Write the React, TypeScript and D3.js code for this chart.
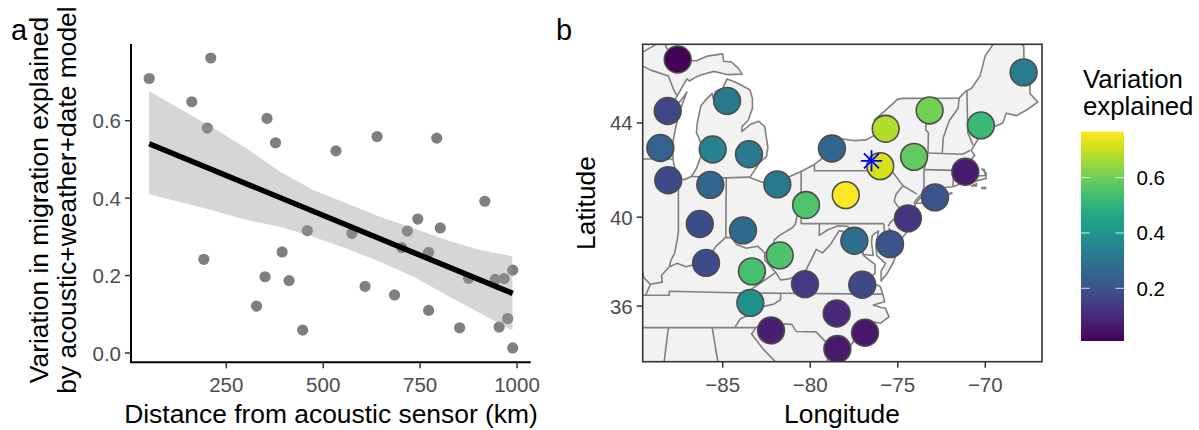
import * as d3 from "d3";

// panel a: distance (km) and variation explained
const distanceKm = [51, 210, 161, 201, 355, 377, 533, 639, 793, 917, 744, 802, 717, 459, 574, 703, 772, 394, 192, 350, 412, 608, 684, 328, 772, 447, 852, 875, 944, 967, 989, 976, 954, 989];
const variation = [0.709, 0.762, 0.649, 0.581, 0.606, 0.543, 0.522, 0.559, 0.555, 0.392, 0.346, 0.323, 0.315, 0.316, 0.309, 0.272, 0.26, 0.261, 0.242, 0.197, 0.187, 0.172, 0.15, 0.121, 0.11, 0.059, 0.065, 0.193, 0.19, 0.192, 0.214, 0.089, 0.067, 0.013];
const fitLine: [number, number][] = [[51, 0.5405], [989, 0.154]];
const ribbonKm = [51, 201, 300, 388, 474, 560, 646, 733, 818, 904, 988];
const ribbonUpper = [0.676, 0.59, 0.53, 0.4685, 0.421, 0.387, 0.352, 0.322, 0.292, 0.266, 0.25];
const ribbonLower = [0.41, 0.372, 0.344, 0.326, 0.3, 0.27, 0.236, 0.197, 0.15, 0.103, 0.058];
const kmTicks = [250, 500, 750, 1000];
const varTicks = [0, 0.2, 0.4, 0.6];

// panel b: sites
const siteLon = [-87.57, -88.14, -88.56, -88.11, -84.75, -85.57, -83.5, -85.71, -81.88, -78.76, -67.81, -73.18, -75.69, -70.25, -74.07, -76, -71.14, -72.87, -77.97, -80.24, -86.31, -83.84, -81.74, -85.95, -83.33, -80.3, -83.42, -82.24, -78.49, -78.45, -77.48, -75.44, -74.42, -77.03, -76.87];
const siteLat = [46.55, 44.49, 42.96, 41.6, 44.9, 42.9, 42.7, 41.4, 41.42, 42.94, 46.04, 44.51, 43.76, 43.9, 42.59, 42.2, 41.96, 40.86, 40.96, 40.53, 39.7, 39.42, 38.31, 37.97, 37.59, 37.01, 36.15, 34.87, 35.66, 33.99, 38.96, 38.81, 39.95, 36.98, 34.76];
const siteValue = [0.013, 0.165, 0.24, 0.172, 0.316, 0.346, 0.309, 0.26, 0.315, 0.255, 0.323, 0.606, 0.68, 0.522, 0.581, 0.72, 0.065, 0.205, 0.766, 0.559, 0.185, 0.272, 0.555, 0.18, 0.543, 0.13, 0.392, 0.075, 0.095, 0.06, 0.28, 0.205, 0.125, 0.172, 0.055];
const sensor: [number, number] = [-76.5, 42.42];
const lonTicks = [-85, -80, -75, -70];
const latTicks = [36, 40, 44];
const legendTicks = [0.2, 0.4, 0.6];
const valueDomain: [number, number] = [0.0094, 0.766];

// land outlines, lon/lat, rough hand-read
const mainland: [number, number][] = [
  [-92, 46.7], [-90.9, 46.95], [-90.4, 46.57], [-89.6, 46.83], [-88.9, 47.1], [-88.45, 47.4], [-88.2, 47], [-87.4, 46.5], [-87, 46.5], [-86.5, 46.5], [-85.9, 46.68], [-85, 46.77], [-84.95, 46.48], [-84.5, 46.45], [-84.1, 46.2], [-83.9, 45.97],
  [-84.7, 45.95], [-85, 46], [-85.5, 46.08], [-86.2, 45.95], [-86.55, 45.85], [-86.9, 45.7], [-87.05, 45.78], [-87.6, 45.1], [-88, 44.55], [-87.4, 44.9], [-87.05, 45.25], [-87.5, 44.4], [-87.7, 43.75], [-87.9, 43], [-87.8, 42.3], [-87.55, 41.7],
  [-87.2, 41.62], [-86.8, 41.76], [-86.5, 42.1], [-86.25, 42.6], [-86.2, 43.1], [-86.5, 43.6], [-86.45, 44], [-86.25, 44.7], [-85.95, 44.95], [-85.6, 45.2], [-85.55, 45], [-85.4, 45.3], [-85, 45.4], [-84.75, 45.78], [-84.2, 45.63], [-83.45, 45.35],
  [-83.3, 45], [-83.3, 44.6], [-83.55, 44.1], [-83.9, 43.85], [-83.9, 43.65], [-83.4, 43.95], [-82.95, 44.07], [-82.6, 43.85], [-82.42, 43], [-82.5, 42.6], [-82.9, 42.35], [-83.15, 42.05], [-83.45, 41.72], [-82.7, 41.5], [-81.7, 41.5], [-81.2, 41.75],
  [-80.5, 41.98], [-79.76, 42.27], [-79, 42.7], [-78.9, 42.9], [-79.05, 43.25], [-78.5, 43.37], [-77.5, 43.27], [-76.8, 43.3], [-76.2, 43.55], [-76.2, 43.95], [-76.35, 44.12], [-75.8, 44.45], [-75, 44.97], [-74.7, 45], [-71.5, 45.01], [-71.1, 45.3],
  [-70.8, 45.4], [-70.3, 45.9], [-70, 46.7], [-69.23, 47.46], [-68.3, 47.35], [-67.8, 47.07], [-67.78, 45.9], [-67.45, 45.6], [-67.45, 45.2], [-67, 44.85], [-67.6, 44.55], [-68.2, 44.3], [-68.8, 44.4], [-69, 44], [-69.8, 43.75], [-70.2, 43.6],
  [-70.6, 43.1], [-70.8, 42.85], [-70.6, 42.65], [-71, 42.3], [-70.7, 42], [-70.5, 41.78], [-70, 41.8], [-70.05, 42.05], [-70.2, 42.07], [-69.95, 41.9], [-69.95, 41.67], [-70.6, 41.55], [-71.1, 41.5], [-71.4, 41.45], [-71.85, 41.32], [-72.9, 41.25],
  [-73.65, 41], [-73.9, 40.8], [-74.05, 40.65], [-74, 40.45], [-74.1, 39.75], [-74.4, 39.4], [-74.9, 38.95], [-75.15, 39.2], [-75.5, 39.5], [-75.4, 39.1], [-75.1, 38.8], [-75.05, 38.45], [-75.25, 38], [-75.6, 37.5], [-75.95, 37.15], [-75.95, 37.6],
  [-75.7, 37.95], [-76.2, 38.3], [-76.25, 38.8], [-76.1, 39.4], [-76.45, 39.2], [-76.5, 38.9], [-76.4, 38.3], [-77, 38.35], [-77.05, 38.7], [-76.95, 38.3], [-76.3, 37.9], [-76.3, 37.5], [-76.7, 37.2], [-76.3, 37], [-76, 36.9], [-75.85, 36.55],
  [-75.75, 36.2], [-76.4, 36.05], [-76, 35.95], [-75.7, 35.9], [-75.5, 35.5], [-76, 35.2], [-76.6, 35.3], [-76.4, 34.95], [-76.6, 34.65], [-77.4, 34.5], [-77.95, 33.85], [-78.55, 33.85], [-79, 33.5], [-79.3, 33], [-92, 33],
];
const islands: [number, number][][] = [
  [[-74, 40.6], [-73, 40.65], [-71.9, 41.05], [-72.6, 40.98], [-73.7, 40.85]],
  [[-70.2, 41.28], [-69.97, 41.28], [-70, 41.24], [-70.2, 41.25]],
  [[-70.8, 41.35], [-70.5, 41.45], [-70.5, 41.35]],
];
const stateLines: [number, number][][] = [
  [[-90.4, 46.55], [-89.1, 46.13], [-88.1, 45.9], [-87.8, 45.35], [-87.6, 45.1]],
  [[-90.6, 42.5], [-87.8, 42.5]],
  [[-87.53, 41.7], [-87.53, 39.35], [-87.6, 39], [-87.75, 38.4], [-87.95, 38.1], [-88.05, 37.8]],
  [[-89.7, 37.9], [-89.5, 37.3], [-89.13, 37], [-89.4, 36.5]],
  [[-89.13, 37], [-88.45, 37.1], [-88.5, 37.4], [-88.05, 37.8], [-87.6, 37.95], [-87.1, 37.8], [-86.6, 37.9], [-86.3, 38.15], [-85.9, 38], [-85.75, 38.27], [-85.4, 38.7], [-84.85, 39.1], [-84.5, 39.1], [-84.2, 38.8], [-83.65, 38.63], [-83, 38.72], [-82.6, 38.42], [-82.2, 38.6], [-82.05, 39], [-81.75, 39.2], [-81, 39.55], [-80.85, 39.7], [-80.65, 40.4], [-80.52, 40.64]],
  [[-84.82, 39.1], [-84.8, 41.7]],
  [[-86.8, 41.76], [-84.8, 41.7], [-83.45, 41.73]],
  [[-80.52, 42], [-80.52, 39.72], [-75.79, 39.72]],
  [[-79.76, 42.27], [-79.76, 42], [-75.35, 42], [-74.7, 41.36], [-75.1, 41], [-75.2, 40.7], [-74.75, 40.2], [-75.4, 39.8], [-75.55, 39.6]],
  [[-74.7, 41.36], [-73.9, 41]],
  [[-73.65, 41], [-73.5, 41.3], [-73.5, 42.05], [-73.27, 42.75], [-73.25, 43.6], [-73.4, 43.7], [-73.35, 45]],
  [[-72.46, 42.73], [-72.4, 43.4], [-72.05, 44.1], [-71.55, 44.6], [-71.5, 45.01]],
  [[-73.27, 42.75], [-71.3, 42.7], [-70.85, 42.87]],
  [[-73.5, 42.05], [-71.8, 42.02], [-71.85, 41.32]],
  [[-71.8, 42.02], [-71.38, 42.02], [-71.2, 41.5]],
  [[-70.7, 43.08], [-71, 43.6], [-71.05, 45.3]],
  [[-75.79, 39.72], [-75.7, 38.46], [-75.05, 38.45]],
  [[-79.48, 39.72], [-79.48, 39.2], [-79, 39.45], [-78.4, 39.62], [-77.85, 39.6], [-77.72, 39.32], [-77.5, 39.1], [-77.05, 38.85]],
  [[-77.72, 39.32], [-78.35, 39.4], [-78.87, 38.77], [-79.3, 38.42], [-79.65, 38.58], [-80.3, 37.55], [-81.2, 37.25], [-81.7, 37.2], [-81.97, 37.54]],
  [[-82.6, 38.42], [-82.6, 38.1], [-81.97, 37.54], [-83.68, 36.6]],
  [[-89.6, 36.5], [-88.05, 36.5], [-88.05, 36.68], [-83.68, 36.6], [-81.68, 36.59], [-75.87, 36.55]],
  [[-81.68, 36.59], [-81.7, 36.3], [-82.05, 36.1], [-82.6, 36], [-83.1, 35.75], [-84, 35.4], [-84.32, 34.99]],
  [[-90.3, 35], [-83.11, 35], [-82.4, 35.2], [-81.05, 35.15], [-80.8, 34.82], [-79.67, 34.8], [-78.55, 33.85]],
  [[-83.11, 35], [-83.35, 34.7], [-82.7, 34], [-82, 33.4]],
  [[-88.1, 35], [-88.4, 33]],
  [[-85.6, 35], [-85.2, 33]],
];

const FONT = "'Liberation Sans', Arial, sans-serif";

const x = d3.scaleLinear().domain([250, 1000]).range([226.3, 517]);
const y = d3.scaleLinear().domain([0, 0.6]).range([353, 120.7]);
const proj = d3.geoMercator().scale(1003).center([-85, 40]).translate([722.7, 217.2]);
const px = (p: [number, number]) => proj(p)![0];
const py = (p: [number, number]) => proj(p)![1];
const geoLine = d3.line<[number, number]>().x(px).y(py);
const color = d3.scaleSequential(d3.interpolateViridis).domain(valueDomain);
const legendY = d3.scaleLinear().domain(valueDomain).range([341, 131.7]);

const ribbon = d3.area<number>()
  .x((d) => x(d))
  .y0((_d, i) => y(ribbonLower[i]))
  .y1((_d, i) => y(ribbonUpper[i]));
const fit = d3.line<[number, number]>().x((d) => x(d[0])).y((d) => y(d[1]));

const L = 131, B = 362.3, R = 530.7, T = 44;
const ML = 642.7, MR = 1042, MT = 44.3, MB = 361.7;
const mapStroke = { stroke: "#808080", strokeWidth: 1.6, strokeLinejoin: "round" as const };

export default function App() {
  const star: [number, number] = [px(sensor), py(sensor)];
  const plus = d3.symbol(d3.symbolPlus, 150)();
  const times = d3.symbol(d3.symbolTimes, 150)();
  return (
    <svg width={1199} height={430} style={{ position: "absolute", left: 0, top: 0 }} fontFamily={FONT}>
      <defs>
        <clipPath id="mapClip"><rect x={ML} y={MT} width={MR - ML} height={MB - MT} /></clipPath>
        <linearGradient id="viridisBar" x1="0" y1="1" x2="0" y2="0">
          {d3.range(0, 1.001, 0.05).map((t) => (
            <stop key={t} offset={t} stopColor={d3.interpolateViridis(t)} />
          ))}
        </linearGradient>
      </defs>

      {/* panel a */}
      <text x={11} y={40} fontSize={29}>a</text>
      {distanceKm.map((d, i) => (
        <circle key={i} cx={x(d)} cy={y(variation[i])} r={5.6} fill="#7f7f7f" />
      ))}
      <path d={ribbon(ribbonKm) || ""} fill="#999999" fillOpacity={0.4} />
      <path d={fit(fitLine) || ""} stroke="#000" strokeWidth={5.5} fill="none" />
      <path d={`M${L},${T}V${B}H${R}`} stroke="#000" strokeWidth={2} fill="none" />
      {varTicks.map((t) => (
        <g key={t}>
          <line x1={L - 6} x2={L} y1={y(t)} y2={y(t)} stroke="#333" strokeWidth={1.5} />
          <text x={L - 10} y={y(t) + 7.5} textAnchor="end" fontSize={20.5} fill="#4d4d4d">{t.toFixed(1)}</text>
        </g>
      ))}
      {kmTicks.map((t) => (
        <g key={t}>
          <line x1={x(t)} x2={x(t)} y1={B} y2={B + 6} stroke="#333" strokeWidth={1.5} />
          <text x={x(t)} y={392} textAnchor="middle" fontSize={20.5} fill="#4d4d4d">{t}</text>
        </g>
      ))}
      <text x={331} y={423} textAnchor="middle" fontSize={26.4}>Distance from acoustic sensor (km)</text>
      <g transform="translate(48,200) rotate(-90)">
        <text textAnchor="middle" fontSize={26.4}>Variation in migration explained</text>
      </g>
      <g transform="translate(76,200) rotate(-90)">
        <text textAnchor="middle" fontSize={26.4}>by acoustic+weather+date model</text>
      </g>

      {/* panel b */}
      <text x={556} y={40} fontSize={29}>b</text>
      <g clipPath="url(#mapClip)">
        <path d={(geoLine(mainland) || "") + "Z"} fill="#f2f2f2" {...mapStroke} />
        {islands.map((s, i) => (
          <path key={i} d={(geoLine(s) || "") + "Z"} fill="#f2f2f2" {...mapStroke} />
        ))}
        {stateLines.map((s, i) => (
          <path key={i} d={geoLine(s) || ""} fill="none" {...mapStroke} />
        ))}
        {siteLon.map((lon, i) => (
          <circle key={i} cx={px([lon, siteLat[i]])} cy={py([lon, siteLat[i]])} r={13.4} fill={color(siteValue[i])} stroke="#4d4d4d" strokeWidth={1.6} />
        ))}
        <g transform={`translate(${star[0]},${star[1]})`} stroke="#0000ff" strokeWidth={1.8} fill="none">
          <path d={plus || ""} />
          <path d={times || ""} />
        </g>
      </g>
      <rect x={ML} y={MT} width={MR - ML} height={MB - MT} fill="none" stroke="#333" strokeWidth={1.6} />
      {lonTicks.map((t) => {
        const lx = px([t, 40]);
        return (
          <g key={t}>
            <line x1={lx} x2={lx} y1={MB} y2={MB + 6} stroke="#333" strokeWidth={1.5} />
            <text x={lx} y={392} textAnchor="middle" fontSize={20.5} fill="#4d4d4d">{"\u2212" + Math.abs(t)}</text>
          </g>
        );
      })}
      {latTicks.map((t) => {
        const ly = py([-85, t]);
        return (
          <g key={t}>
            <line x1={ML - 6} x2={ML} y1={ly} y2={ly} stroke="#333" strokeWidth={1.5} />
            <text x={ML - 10} y={ly + 7.5} textAnchor="end" fontSize={20.5} fill="#4d4d4d">{t}</text>
          </g>
        );
      })}
      <text x={842} y={423} textAnchor="middle" fontSize={26.4}>Longitude</text>
      <g transform="translate(595,203) rotate(-90)">
        <text textAnchor="middle" fontSize={26.4}>Latitude</text>
      </g>

      {/* legend */}
      <text x={1083} y={88} fontSize={25.8}>Variation</text>
      <text x={1083} y={115} fontSize={25.8}>explained</text>
      <rect x={1081} y={131.7} width={43} height={209.3} fill="url(#viridisBar)" />
      {legendTicks.map((t) => (
        <g key={t}>
          <line x1={1081} x2={1089.6} y1={legendY(t)} y2={legendY(t)} stroke="#fff" strokeOpacity={0.8} strokeWidth={1} />
          <line x1={1115.4} x2={1124} y1={legendY(t)} y2={legendY(t)} stroke="#fff" strokeOpacity={0.8} strokeWidth={1} />
          <text x={1136.5} y={legendY(t) + 7.5} fontSize={20.5}>{t.toFixed(1)}</text>
        </g>
      ))}
    </svg>
  );
}
